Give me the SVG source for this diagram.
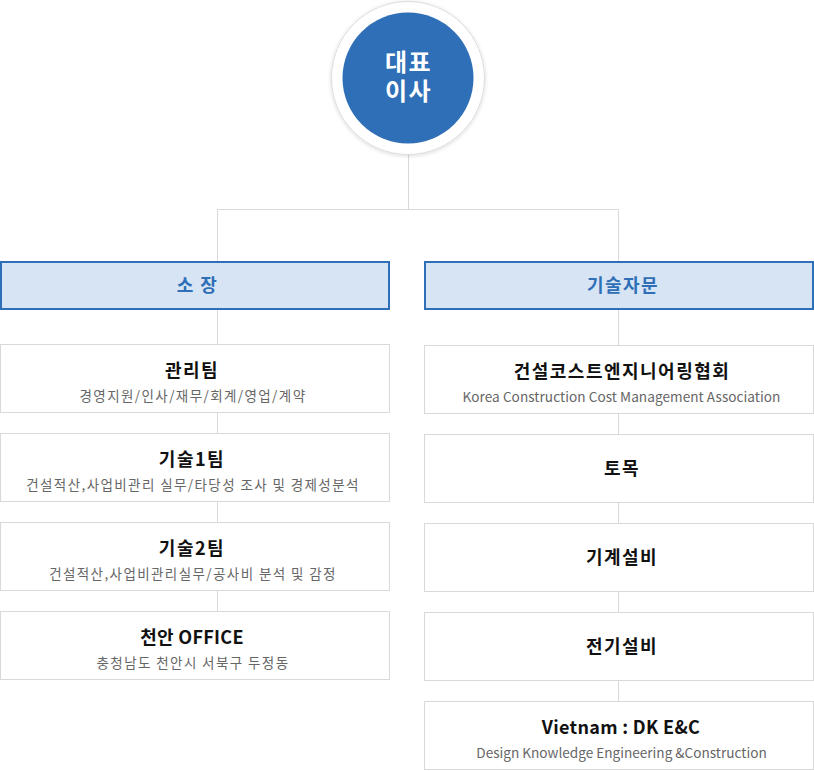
<svg xmlns="http://www.w3.org/2000/svg" width="814" height="771" viewBox="0 0 814 771">
<defs>
<style>
.box{fill:#fff;stroke:#d9d9d9;stroke-width:1}
.head{fill:#d7e4f4;stroke:#2e6fb7;stroke-width:2}
.t{font-family:"Noto Sans CJK KR","Noto Sans",sans-serif;font-weight:bold;font-size:18px;letter-spacing:1.5px;fill:#111;text-anchor:middle}
.te{font-family:"Noto Sans CJK KR","Noto Sans",sans-serif;font-weight:bold;font-size:18px;letter-spacing:0.3px;fill:#111;text-anchor:middle}
.s{font-family:"Noto Sans CJK KR","Noto Sans",sans-serif;font-size:13.5px;letter-spacing:1.4px;fill:#666;text-anchor:middle}
.se{font-family:"Noto Sans CJK KR","Noto Sans",sans-serif;font-size:13.6px;letter-spacing:0.05px;fill:#666;text-anchor:middle}
.h{font-family:"Noto Sans CJK KR","Noto Sans",sans-serif;font-weight:bold;font-size:18px;letter-spacing:1.5px;fill:#2e6fb7;text-anchor:middle}
.c{font-family:"Noto Sans CJK KR","Noto Sans",sans-serif;font-weight:bold;font-size:24px;letter-spacing:1.5px;fill:#fff;text-anchor:middle}
.ln{stroke:#d9d9d9;stroke-width:1;fill:none}
</style>
<filter id="sh" x="-20%" y="-20%" width="140%" height="140%">
<feGaussianBlur in="SourceAlpha" stdDeviation="2"/>
<feOffset dy="1"/>
<feComponentTransfer><feFuncA type="linear" slope="0.15"/></feComponentTransfer>
<feMerge><feMergeNode/><feMergeNode in="SourceGraphic"/></feMerge>
</filter>
</defs>
<rect width="814" height="771" fill="#fff"/>
<g id="connectors">
<path class="ln" d="M408.5 155V209.5M217.5 209.5H618.5M217.5 209.5V262M618.5 209.5V262"/>
<path class="ln" d="M217.5 310V344M217.5 413V433M217.5 502V522M217.5 591V611"/>
<path class="ln" d="M618.5 310V345M618.5 414V434M618.5 503V523M618.5 592V612M618.5 681V701"/>
</g>
<g id="ceo">
<circle cx="408" cy="78" r="76.5" fill="#fff" stroke="#dcdcdc" stroke-width="1" filter="url(#sh)"/>
<circle cx="408" cy="78" r="65.5" fill="#2e6fb7"/>
<text class="c"><tspan x="408.5" y="71">대표</tspan><tspan x="408.5" y="100">이사</tspan></text>
</g>
<g id="head-left">
<rect class="head" x="1" y="262" width="388" height="47"/>
<text class="h" x="197.5" y="292">소 장</text>
</g>
<g id="head-right">
<rect class="head" x="425" y="262" width="388" height="47"/>
<text class="h" x="623" y="292">기술자문</text>
</g>
<g id="l1">
<rect class="box" x="0.5" y="344.5" width="389" height="68"/>
<text class="t" x="192" y="377">관리팀</text>
<text class="s" x="193" y="401">경영지원/인사/재무/회계/영업/계약</text>
</g>
<g id="l2">
<rect class="box" x="0.5" y="433.5" width="389" height="68"/>
<text class="t" x="192" y="466">기술1팀</text>
<text class="s" x="193" y="490">건설적산,사업비관리 실무/타당성 조사 및 경제성분석</text>
</g>
<g id="l3">
<rect class="box" x="0.5" y="522.5" width="389" height="68"/>
<text class="t" x="192" y="555">기술2팀</text>
<text class="s" x="193" y="579">건설적산,사업비관리실무/공사비 분석 및 감정</text>
</g>
<g id="l4">
<rect class="box" x="0.5" y="611.5" width="389" height="68"/>
<text class="te" x="192" y="644">천안 OFFICE</text>
<text class="s" x="193" y="668">충청남도 천안시 서북구 두정동</text>
</g>
<g id="r1">
<rect class="box" x="424.5" y="345.5" width="389" height="68"/>
<text class="t" x="622" y="378">건설코스트엔지니어링협회</text>
<text class="se" x="621.5" y="402">Korea Construction Cost Management Association</text>
</g>
<g id="r2">
<rect class="box" x="424.5" y="434.5" width="389" height="68"/>
<text class="t" x="622" y="475">토목</text>
</g>
<g id="r3">
<rect class="box" x="424.5" y="523.5" width="389" height="68"/>
<text class="t" x="622" y="564">기계설비</text>
</g>
<g id="r4">
<rect class="box" x="424.5" y="612.5" width="389" height="68"/>
<text class="t" x="622" y="653">전기설비</text>
</g>
<g id="r5">
<rect class="box" x="424.5" y="701.5" width="389" height="68"/>
<text class="te" x="621" y="734">Vietnam : DK E&amp;C</text>
<text class="se" x="621.5" y="758" style="letter-spacing:0">Design Knowledge Engineering &amp;Construction</text>
</g>
</svg>
